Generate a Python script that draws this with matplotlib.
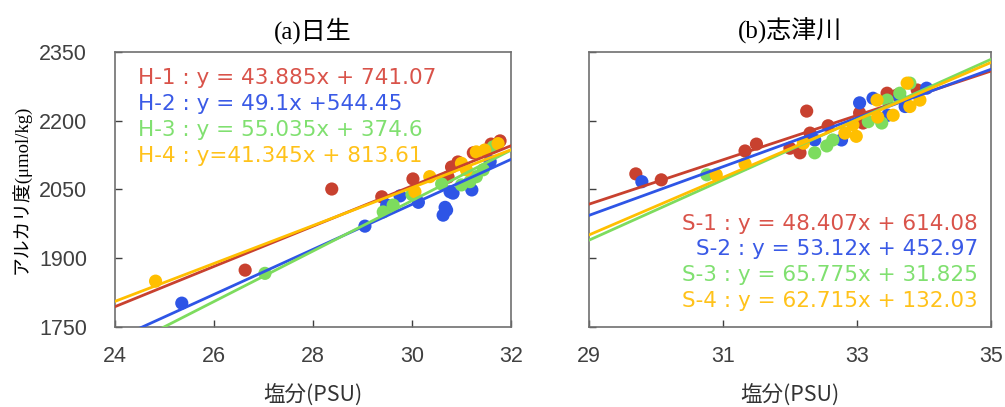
import numpy as np
import matplotlib.pyplot as plt

# (a) 日生 -- salinity / alkalinity points per station
h_x = {
    "H-1": [26.63, 28.38, 29.39, 30.02, 30.73, 30.8, 30.93, 31.24, 31.6, 31.78],
    "H-2": [25.35, 29.05, 29.49, 29.76, 30.13, 30.63, 30.67, 30.7, 30.77, 30.83, 31.21, 31.58],
    "H-3": [27.03, 29.42, 29.62, 30.0, 30.6, 31.0, 31.17, 31.3, 31.44, 31.64],
    "H-4": [24.82, 30.06, 30.36, 31.0, 31.1, 31.3, 31.47, 31.74],
}
h_y = {
    "H-1": [1874, 2051, 2034, 2073, 2077, 2099, 2110, 2130, 2149, 2156],
    "H-2": [1802, 1970, 2016, 2036, 2022, 1994, 2011, 2005, 2045, 2042, 2049, 2111],
    "H-3": [1867, 2001, 2016, 2039, 2062, 2060, 2067, 2078, 2093, 2143],
    "H-4": [1850, 2045, 2078, 2107, 2093, 2132, 2136, 2150],
}
h_fit = {"H-1": (43.885, 741.07), "H-2": (49.1, 544.45),
         "H-3": (55.035, 374.6), "H-4": (41.345, 813.61)}
h_text = ["H-1 : y = 43.885x + 741.07", "H-2 : y = 49.1x +544.45",
          "H-3 : y = 55.035x + 374.6", "H-4 : y=41.345x + 813.61"]

# (b) 志津川
s_x = {
    "S-1": [29.7, 30.08, 31.33, 31.5, 32.25, 32.0, 32.15, 32.3, 32.57, 33.04, 33.09, 33.45, 33.6, 33.9],
    "S-2": [29.79, 32.37, 32.77, 33.04, 33.24, 33.46, 33.72, 34.04, 33.64],
    "S-3": [30.76, 32.37, 32.55, 32.64, 33.17, 33.37, 33.45, 33.79, 33.64],
    "S-4": [30.9, 31.33, 32.82, 32.99, 33.3, 33.31, 33.54, 33.75, 33.94, 33.79, 32.94, 32.2],
}
s_y = {
    "S-1": [2084, 2071, 2134, 2149, 2221, 2140, 2130, 2173, 2189, 2217, 2195, 2260, 2256, 2267],
    "S-2": [2067, 2158, 2158, 2239, 2249, 2212, 2231, 2271, 2252],
    "S-3": [2082, 2130, 2145, 2158, 2198, 2195, 2245, 2282, 2260],
    "S-4": [2082, 2106, 2173, 2166, 2245, 2208, 2212, 2282, 2245, 2231, 2191, 2151],
}
s_fit = {"S-1": (48.407, 614.08), "S-2": (53.12, 452.97),
         "S-3": (65.775, 31.825), "S-4": (62.715, 132.03)}
s_text = ["S-1 : y = 48.407x + 614.08", "S-2 : y = 53.12x + 452.97",
          "S-3 : y = 65.775x + 31.825", "S-4 : y = 62.715x + 132.03"]

pt_colors = ["#c8412f", "#2e55e6", "#7ddc5e", "#ffbf00"]
txt_colors = ["#d9534a", "#3a5ae6", "#80e070", "#ffc21a"]

yticks = [1750, 1900, 2050, 2200, 2350]

cjk = "Noto Sans CJK JP"
serif_cjk = ["Liberation Serif", cjk]


def draw(ax, xs, ys, fits, xlim, xticks):
    for i, k in enumerate(xs):
        ax.scatter(xs[k], ys[k], s=90, color=pt_colors[i], edgecolors="none", zorder=2)
    xx = np.linspace(xlim[0], xlim[1], 50)
    for i, k in enumerate(fits):
        a, b = fits[k]
        ax.plot(xx, a * xx + b, color=pt_colors[i], lw=2, zorder=3)
    ax.set_xlim(xlim)
    ax.set_ylim(1750, 2350)
    ax.set_xticks(xticks)
    ax.set_yticks(yticks)
    ax.tick_params(direction="in", length=5, width=1, labelsize=15.5, pad=14,
                   colors="#404040")
    for sp in ax.spines.values():
        sp.set_color("#707070")
        sp.set_linewidth(1.2)
    for lab in ax.get_xticklabels() + ax.get_yticklabels():
        lab.set_family("Liberation Sans")
    ax.set_xlabel("塩分(PSU)", family=cjk, fontsize=15.5, labelpad=12, color="#333333")


fig = plt.figure(figsize=(10.05, 4.07), dpi=100)
ax1 = fig.add_axes([0.1144, 0.1966, 0.394, 0.6757])
ax2 = fig.add_axes([0.586, 0.1966, 0.400, 0.6757])

draw(ax1, h_x, h_y, h_fit, (24, 32), [24, 26, 28, 30, 32])
draw(ax2, s_x, s_y, s_fit, (29, 35), [29, 31, 33, 35])
ax2.tick_params(axis="y", labelleft=False)
ax1.tick_params(axis="y", pad=20)

ax1.set_title("(a)日生", family=serif_cjk, fontsize=18, pad=10)
ax2.set_title("(b)志津川", family=serif_cjk, fontsize=18, pad=10)
ax1.set_ylabel("アルカリ度(μmol/kg)", family=serif_cjk, fontsize=13.5, labelpad=6)

for i, t in enumerate(h_text):
    ax1.text(0.058, 0.905 - i * 0.0945, t, transform=ax1.transAxes, color=txt_colors[i],
             fontsize=15.5, va="center", ha="left")
for i, t in enumerate(s_text):
    ax2.text(0.968, 0.375 - i * 0.093, t, transform=ax2.transAxes, color=txt_colors[i],
             fontsize=15.5, va="center", ha="right")

fig.savefig("out.png", dpi=100)
